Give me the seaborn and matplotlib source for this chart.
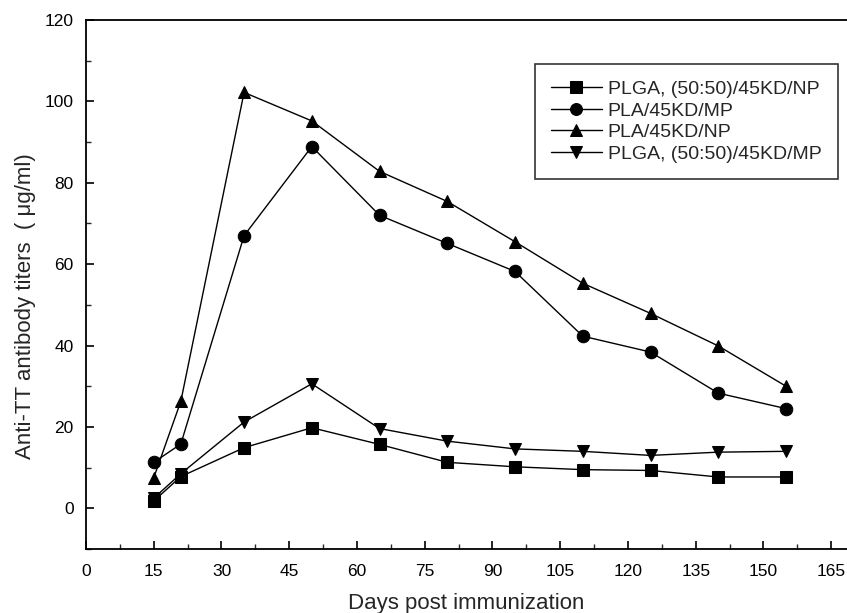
import matplotlib
matplotlib.use("Agg")
import matplotlib.pyplot as plt
import seaborn as sns
import pandas as pd
from matplotlib.ticker import MultipleLocator

days = [15, 21, 35, 50, 65, 80, 95, 110, 125, 140, 155]
series_names = ["PLGA, (50:50)/45KD/NP", "PLA/45KD/MP", "PLA/45KD/NP", "PLGA, (50:50)/45KD/MP"]
plga_np = [1.8, 7.8, 14.9, 19.8, 15.7, 11.3, 10.2, 9.5, 9.3, 7.7, 7.7]
pla_mp = [11.3, 15.8, 67.0, 88.9, 72.0, 65.1, 58.2, 42.3, 38.4, 28.3, 24.5]
pla_np = [7.5, 26.3, 102.2, 95.2, 82.8, 75.4, 65.5, 55.3, 47.9, 39.9, 30.0]
plga_mp = [2.5, 8.5, 21.2, 30.6, 19.6, 16.5, 14.6, 14.0, 13.0, 13.8, 14.0]
x_ticks = [0, 15, 30, 45, 60, 75, 90, 105, 120, 135, 150, 165]
y_ticks = [0, 20, 40, 60, 80, 100, 120]

values = [plga_np, pla_mp, pla_np, plga_mp]
rows = []
for name, vals in zip(series_names, values):
    for d, v in zip(days, vals):
        rows.append({"day": d, "titer": v, "group": name})
df = pd.DataFrame(rows)

sns.set_style("ticks")
plt.rcParams["font.family"] = ["Liberation Sans", "DejaVu Sans"]

fig = plt.figure(figsize=(8.47, 6.13), dpi=100)
ax = fig.add_axes([86 / 847, 1 - 549 / 613, 1 - 86 / 847, (549 - 20) / 613])

markers = {series_names[0]: "s", series_names[1]: "o", series_names[2]: "^", series_names[3]: "v"}
palette = {n: "black" for n in series_names}
sns.lineplot(data=df, x="day", y="titer", hue="group", style="group",
             hue_order=series_names, style_order=series_names,
             markers=markers, dashes=False, palette=palette,
             markersize=9, markeredgecolor="black", linewidth=1.0, ax=ax)

ax.set_xlim(0, 168.5)
ax.set_ylim(-10, 120)
ax.set_xticks(x_ticks)
ax.set_yticks(y_ticks)
ax.xaxis.set_minor_locator(MultipleLocator(7.5))
ax.yaxis.set_minor_locator(MultipleLocator(10))
ax.tick_params(which="major", direction="in", length=6, width=1.2, labelsize=12.5, colors="black")
ax.tick_params(axis="x", which="major", pad=11)
ax.tick_params(axis="y", which="major", pad=9)
ax.tick_params(which="minor", direction="in", length=3.5, width=1.0)
ax.tick_params(axis="y", which="both", left=True)
for s in ["left", "bottom", "top"]:
    ax.spines[s].set_linewidth(1.3)
    ax.spines[s].set_color("black")
ax.spines["right"].set_visible(False)

ax.set_xlabel("Days post immunization", fontsize=16, labelpad=10)
ax.set_ylabel("Anti-TT antibody titers  ( \u03bcg/ml)", fontsize=16)
ax.yaxis.set_label_coords(-0.066, 0.459)

handles, labels = ax.get_legend_handles_labels()
leg = ax.legend(handles, labels, loc="upper right", bbox_to_anchor=(0.988, 0.917),
                fontsize=14, frameon=True, fancybox=False, edgecolor="black",
                handlelength=2.6, handletextpad=0.3, borderpad=0.85, labelspacing=0.2,
                borderaxespad=0.0, markerscale=0.95)
leg.get_frame().set_linewidth(1.2)

fig.savefig("out.png", dpi=100)
